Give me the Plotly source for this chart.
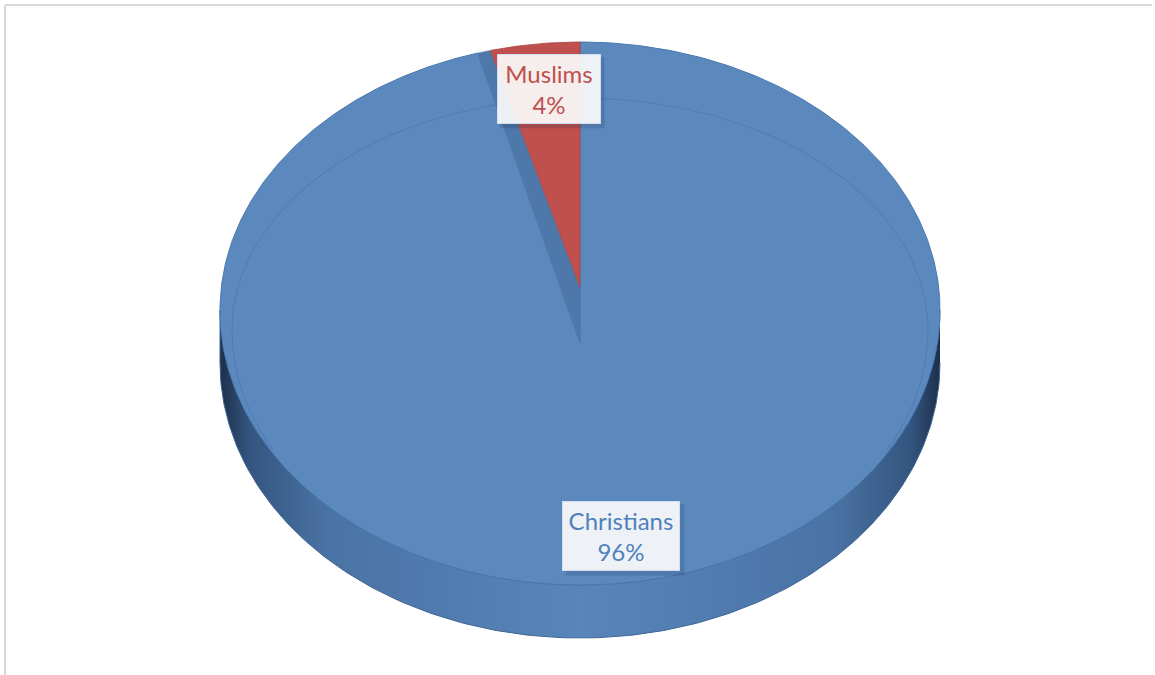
import numpy as np
import plotly.graph_objects as go

# ---- data ----
categories = ["Christians", "Muslims"]
values = [96, 4]
colors = ["#5b89be", "#c0504d"]
label_colors = ["#4f81bd", "#c0504d"]

# ---- geometry (pixel-like coordinate system) ----
W, H = 1155, 675
cx, cy = 580, 310          # outline centre
a, b_top, b_bot = 360, 268, 275
apex_y = 343               # projected pie centre
depth = 53
raise_red = 56             # apparent apex of the small slice (3D wall effect)
gap_deg = 2.1


def outline(t_deg):
    t = np.radians(np.asarray(t_deg, dtype=float))
    c = np.cos(t)
    b = np.where(c >= 0, b_top, b_bot)
    return cx + a * np.sin(t), cy - b * c


total = sum(values)
ang_mus = 360.0 * values[1] / total          # counter-clockwise from top
ang_chr = 360.0 * values[0] / total

fig = go.Figure()

# side wall (front half)
ts = np.linspace(90, 270, 200)
xs_top, ys_top = outline(ts)
side_x = np.concatenate([xs_top, xs_top[::-1]])
side_y = np.concatenate([ys_top, ys_top[::-1] + depth])
fig.add_trace(go.Scatter(
    x=side_x, y=side_y, mode="lines", fill="toself",
    line=dict(color="#3d6595", width=1),
    fillgradient=dict(type="horizontal", colorscale=[
        [0.0, "#1c2f4a"], [0.04, "#34557f"], [0.15, "#4a73a5"],
        [0.5, "#5885ba"], [0.85, "#4a73a5"], [0.96, "#34557f"], [1.0, "#1c2f4a"]]),
    hoverinfo="skip", showlegend=False))

# Christians top face
t_end = 360 - ang_mus - gap_deg
tc = np.linspace(0, t_end, 600)
xc, yc = outline(tc)
fig.add_trace(go.Scatter(
    x=np.concatenate([[cx], xc, [cx]]), y=np.concatenate([[apex_y], yc, [apex_y]]),
    mode="lines", fill="toself", fillcolor=colors[0],
    line=dict(color="#4a78ae", width=1), hoverinfo="skip", showlegend=False))

# visible wall strip next to the small slice
t_m = 360 - ang_mus
xw, yw = outline(np.linspace(t_end, t_m, 10))
fig.add_trace(go.Scatter(
    x=np.concatenate([[cx], xw, [cx], [cx]]),
    y=np.concatenate([[apex_y], yw, [apex_y - raise_red], [apex_y]]),
    mode="lines", fill="toself", fillcolor="#4e77aa",
    line=dict(color="#4e77aa", width=0.5), hoverinfo="skip", showlegend=False))

# Muslims slice
tm = np.linspace(t_m, 360, 60)
xm, ym = outline(tm)
fig.add_trace(go.Scatter(
    x=np.concatenate([[cx], xm, [cx]]),
    y=np.concatenate([[apex_y - raise_red], ym, [apex_y - raise_red]]),
    mode="lines", fill="toself", fillcolor=colors[1],
    line=dict(color="#a84541", width=0.8), hoverinfo="skip", showlegend=False))

# inner bevel line
ti = np.radians(np.linspace(-118, 118, 300))
ci = np.cos(ti)
a_in, cy_in, bt_in, bb_in = 348, 330, 232, 255
bi = np.where(ci >= 0, bt_in, bb_in)
fig.add_trace(go.Scatter(
    x=cx + a_in * np.sin(ti), y=cy_in - bi * ci, mode="lines",
    line=dict(color="#4d7cb3", width=1), hoverinfo="skip", showlegend=False))

# labels
r_lab = 0.83
mids = [ang_chr / 2.0, 360 - ang_mus / 2.0]
nudge_x = [4, 6]
for i, cat in enumerate(categories):
    t = np.radians(mids[i])
    b = b_top if np.cos(t) >= 0 else b_bot
    lx = cx + r_lab * a * np.sin(t) + nudge_x[i]
    ly = cy - r_lab * b * np.cos(t)
    pct = round(100 * values[i] / total)
    bw = 104 if i == 1 else 118
    bh = 70
    txt = f"{cat}<br>{pct}%"
    # shadow
    fig.add_shape(type="rect", xref="x", yref="y",
                  x0=lx - bw / 2 + 3, x1=lx + bw / 2 + 4,
                  y0=ly - bh / 2 + 3, y1=ly + bh / 2 + 4,
                  fillcolor="rgba(20,40,70,0.16)", line=dict(width=0))
    fig.add_annotation(x=lx, y=ly, text=txt, showarrow=False,
                       font=dict(family="Lato, Carlito, sans-serif", size=24, color=label_colors[i]),
                       bgcolor="rgba(255,255,255,0.9)", bordercolor="rgba(210,222,238,1)",
                       borderwidth=1, width=bw - 6, height=bh - 6, borderpad=2)

# frame lines (top and left)
fig.add_shape(type="line", xref="x", yref="y", x0=5, y0=5, x1=1152, y1=5,
              line=dict(color="#d9d9d9", width=2))
fig.add_shape(type="line", xref="x", yref="y", x0=5, y0=5, x1=5, y1=675,
              line=dict(color="#d9d9d9", width=2))

fig.update_layout(
    width=W, height=H, margin=dict(l=0, r=0, t=0, b=0),
    paper_bgcolor="white", plot_bgcolor="white", showlegend=False,
    xaxis=dict(range=[0, W], visible=False, fixedrange=True),
    yaxis=dict(range=[H, 0], visible=False, fixedrange=True),
)

fig.write_html("out.html", config={"displayModeBar": False},
               post_script="document.body.style.margin='0';document.body.style.overflow='hidden';")
